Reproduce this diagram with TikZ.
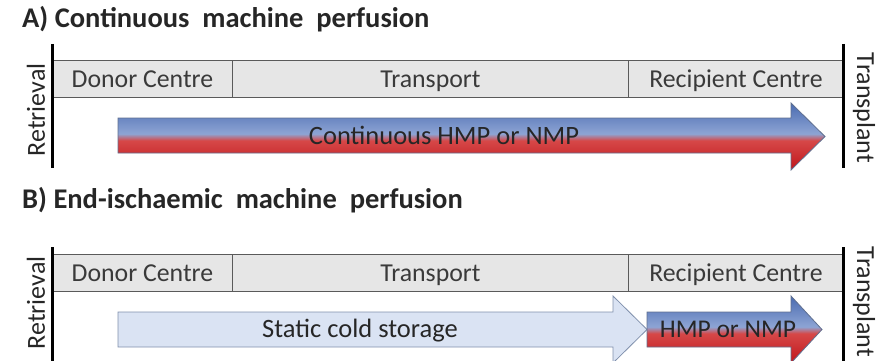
\documentclass[tikz,border=0pt]{standalone}
\usepackage{fontspec}
\setmainfont{Carlito}
\definecolor{hmpblue}{HTML}{4A6BB0}
\definecolor{hmpbluel}{HTML}{8DA4D4}
\definecolor{hmpred}{HTML}{D64848}
\definecolor{hmpredd}{HTML}{C0161C}
\definecolor{cellfill}{HTML}{E6E6E6}
\definecolor{celldraw}{HTML}{5A5A5A}
\definecolor{arrowline}{HTML}{5F6F8F}
\definecolor{scsfill}{HTML}{DAE3F3}
\definecolor{scsline}{HTML}{8090AC}
\definecolor{txt}{HTML}{3A3A3A}
\pgfdeclareverticalshading{bluered}{100bp}{color(0bp)=(hmpredd); color(25bp)=(hmpredd); color(47bp)=(hmpred); color(52bp)=(hmpbluel); color(75bp)=(hmpblue); color(100bp)=(hmpblue)}
\tikzset{
  cell/.style={draw=celldraw, fill=cellfill, line width=0.9pt, minimum height=37pt, anchor=north west, inner sep=0pt, text height=17pt, text depth=0pt, font=\fontsize{25.8}{30}\selectfont, text=txt},
  bar/.style={line width=3pt, black},
  title/.style={anchor=base west, inner sep=0pt, font=\bfseries\fontsize{28.5}{33}\selectfont, text=black!85},
  side/.style={inner sep=0pt, font=\fontsize{26}{30}\selectfont, text=black!85},
  lbl/.style={inner sep=0pt, text height=17pt, text depth=0pt, font=\fontsize{26.5}{30}\selectfont, text=black!85},
  hmp/.style={shading=bluered, draw=arrowline, line width=0.8pt},
  scs/.style={fill=scsfill, draw=scsline, line width=0.8pt}
}
\begin{document}
\begin{tikzpicture}[x=1pt,y=-1pt]
\useasboundingbox (0,0) rectangle (894,361);
% ---------- A ----------
\node[title] (tA) at (22,28) {A) Continuous\ \ machine\ \ perfusion};
\node[cell, minimum width=180pt] (dA) at (52,60) {Donor Centre};
\node[cell, minimum width=396pt] (trA) at (232,60) {Transport};
\node[cell, minimum width=215pt] (rcA) at (628,60) {Recipient Centre};
\coordinate (lAt) at (52,44); \coordinate (lAb) at (52,168);
\coordinate (rAt) at (843,44); \coordinate (rAb) at (843,168);
\draw[bar] (lAt) -- (lAb);
\draw[bar] (rAt) -- (rAb);
\node[side, rotate=90] (retA) at (36,110) {Retrieval};
\node[side, rotate=-90] (tpA) at (864,108) {Transplant};
\shade[hmp] (118,118) -- (791,118) -- (791,103) -- (825,136.5) -- (791,170) -- (791,153) -- (118,153) -- cycle;
\node[lbl] (cA) at (444,136) {Continuous HMP or NMP};
% ---------- B ----------
\node[title] (tB) at (22,208) {B) End-ischaemic\ \ machine\ \ perfusion};
\node[cell, minimum width=180pt] (dB) at (52,254) {Donor Centre};
\node[cell, minimum width=396pt] (trB) at (232,254) {Transport};
\node[cell, minimum width=215pt] (rcB) at (628,254) {Recipient Centre};
\coordinate (lBt) at (52,247); \coordinate (lBb) at (52,362);
\coordinate (rBt) at (843,247); \coordinate (rBb) at (843,362);
\draw[bar] (lBt) -- (lBb);
\draw[bar] (rBt) -- (rBb);
\node[side, rotate=90] (retB) at (36,303) {Retrieval};
\node[side, rotate=-90] (tpB) at (864,302) {Transplant};
\draw[scs] (118,312) -- (613,312) -- (613,296) -- (647,329.5) -- (613,363) -- (613,347) -- (118,347) -- cycle;
\node[lbl] (sB) at (360,329) {Static cold storage};
\shade[hmp] (647,312) -- (791,312) -- (791,296) -- (822,329.5) -- (791,363) -- (791,347) -- (647,347) -- cycle;
\node[lbl, font=\fontsize{25.5}{30}\selectfont] (hB) at (728,329) {HMP or NMP};
\end{tikzpicture}
\end{document}
